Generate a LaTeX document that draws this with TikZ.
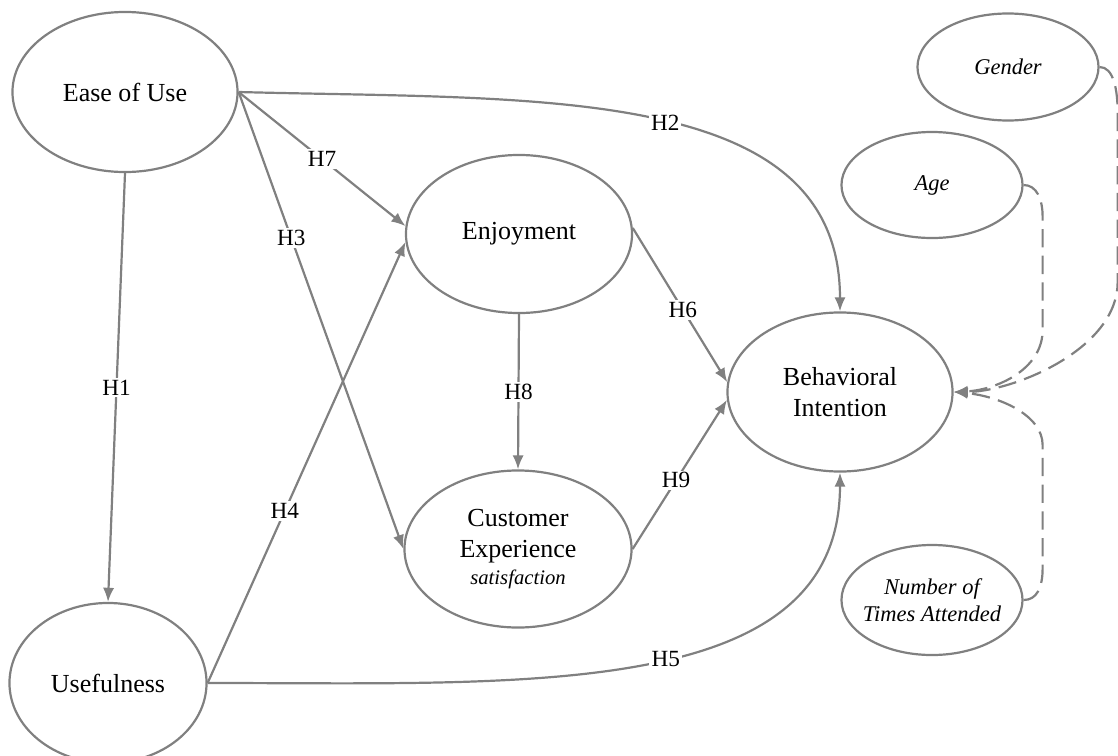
\documentclass[tikz,border=0pt]{standalone}
\usepackage{fontspec}
\setmainfont{Liberation Serif}
\usepackage{xcolor}
\usetikzlibrary{shapes.geometric, arrows.meta}
\definecolor{lineGray}{RGB}{128,128,128}

\begin{document}
\begin{tikzpicture}
[x=0.025cm, y=-0.025cm,
 lineDecorate/.style={-{Latex[length=10pt, width=8pt]}, line width=0.55mm, draw=lineGray},
 dashDecorate/.style={lineDecorate, dash pattern=on 13pt off 6pt},
 nodeDecorate/.style={shape=ellipse, draw=lineGray, line width=0.55mm, inner sep=0pt, align=center, font=\fontsize{18.5}{22}\selectfont},
 ctrlDecorate/.style={nodeDecorate, font=\fontsize{16}{19.5}\selectfont\itshape},
 hypDecorate/.style={fill=white, inner sep=1.5pt, font=\fontsize{16.5}{19}\selectfont}]

 \useasboundingbox (0,0) rectangle (1118,756);

 \node (ease) at (125,92) [nodeDecorate, minimum width=5.625cm, minimum height=4cm] {Ease of Use};
 \node (useful) at (108,683) [nodeDecorate, minimum width=4.925cm, minimum height=4cm] {Usefulness};
 \node (enjoy) at (519,234) [nodeDecorate, minimum width=5.65cm, minimum height=3.95cm] {Enjoyment};
 \node (custExp) at (518,549) [nodeDecorate, minimum width=5.675cm, minimum height=3.925cm]
   {Customer\\Experience\\[-3pt]{\fontsize{14.7}{17}\selectfont\itshape satisfaction}};
 \node (behInt) at (840,392) [nodeDecorate, minimum width=5.625cm, minimum height=3.975cm] {Behavioral\\Intention};
 \node (gender) at (1008,67) [ctrlDecorate, minimum width=4.525cm, minimum height=2.675cm] {Gender};
 \node (age) at (932,185) [ctrlDecorate, minimum width=4.525cm, minimum height=2.65cm] {Age};
 \node (times) at (932,600) [ctrlDecorate, inner xsep=-4pt, minimum width=4.525cm, minimum height=2.75cm] {Number of\\Times Attended};

\path
 \foreach \a/\b/\h/\p in {ease.south/useful.north/H1/0.5, ease.east/enjoy.176/H7/0.5,
   ease.east/custExp.west/H3/0.32, useful.east/enjoy.184/H4/0.39,
   enjoy.south/custExp.north/H8/0.5, enjoy.3/behInt.175/H6/0.53, custExp.east/behInt.184/H9/0.46}
        {
          (\a) edge[lineDecorate] node[hypDecorate, pos=\p] {\h} (\b)
 };

 \draw[lineDecorate] (ease.east) .. controls +(300,8) and +(0,-228) .. (behInt.north)
   node[hypDecorate, pos=0.52] {H2};
 \draw[lineDecorate] (useful.east) .. controls +(323,0) and +(0,228) .. (behInt.south)
   node[hypDecorate, pos=0.53] {H5};

 \draw[dashDecorate] (gender.east) .. controls +(14,0) and +(0,-22) .. ++(18,45) -- ++(0,170)
   .. controls +(0,68) and +(58,0) .. (behInt.east);
 \draw[dashDecorate] (age.east) .. controls +(13,0) and +(0,-18) .. ++(19,32) -- ++(0,113)
   .. controls +(0,40) and +(42,-2) .. (behInt.east);
 \draw[dashDecorate] (times.east) .. controls +(13,0) and +(0,20) .. ++(19,-32) -- ++(0,-123)
   .. controls +(0,-30) and +(45,4) .. (behInt.east);
\end{tikzpicture}
\end{document}
